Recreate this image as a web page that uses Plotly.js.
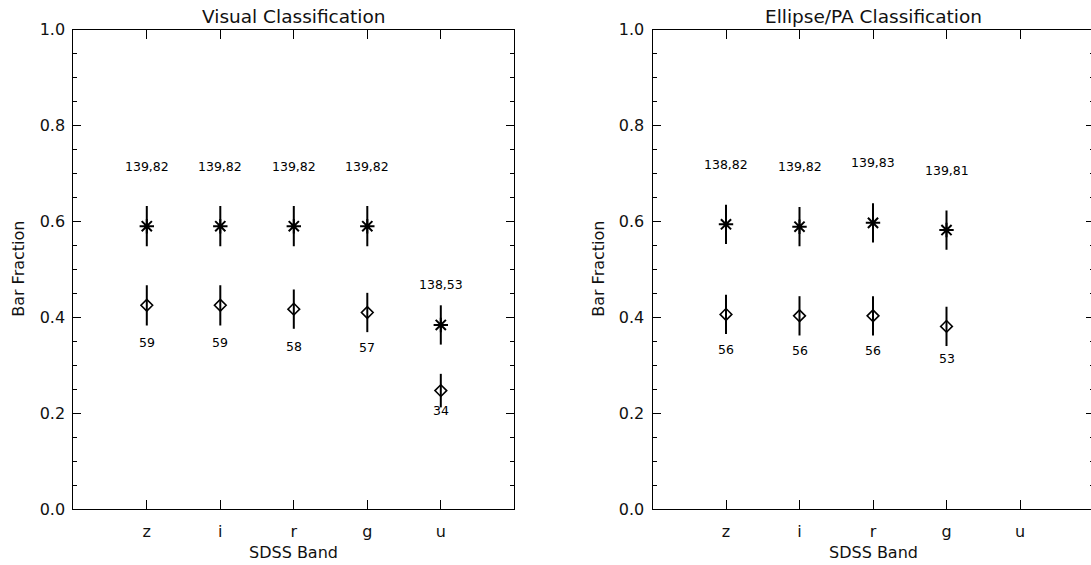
<!DOCTYPE html>
<html>
<head>
<meta charset="utf-8">
<script src="https://cdn.plot.ly/plotly-3.0.1.min.js"></script>
<style>
html,body{margin:0;padding:0;overflow:hidden;background:#fff;}
#chart{width:1096px;height:565px;}
</style>
</head>
<body>
<div id="chart"></div>
<script>
// ---------------- data ----------------
const bands = ['z', 'i', 'r', 'g', 'u'];

// Visual classification
const visBands = ['z', 'i', 'r', 'g', 'u'];
const visTotal = [139, 139, 139, 139, 138];
const visBarCount = [82, 82, 82, 82, 53];
const visBarFrac = [0.590, 0.590, 0.590, 0.590, 0.384];
const visBarErr = [0.042, 0.042, 0.042, 0.042, 0.041];
const visStrongCount = [59, 59, 58, 57, 34];
const visStrongFrac = [0.425, 0.425, 0.417, 0.410, 0.247];
const visStrongErr = [0.042, 0.042, 0.041, 0.041, 0.035];

// Ellipse/PA classification
const ellBands = ['z', 'i', 'r', 'g'];
const ellTotal = [138, 139, 139, 139];
const ellBarCount = [82, 82, 83, 81];
const ellBarFrac = [0.594, 0.589, 0.597, 0.582];
const ellBarErr = [0.041, 0.041, 0.041, 0.041];
const ellStrongCount = [56, 56, 56, 53];
const ellStrongFrac = [0.406, 0.403, 0.403, 0.381];
const ellStrongErr = [0.041, 0.041, 0.041, 0.041];

// ---------------- layout constants ----------------
const FONT = 'DejaVu Sans, sans-serif';
const W = 1096, H = 565;
// label offsets (data units) above the asterisk / below the diamond
const visUp = [0.125, 0.125, 0.125, 0.125, 0.085];
const visDown = [0.077, 0.077, 0.077, 0.074, 0.041];
const ellUp = [0.125, 0.125, 0.125, 0.125];
const ellDown = [0.074, 0.072, 0.072, 0.068];

function starTrace(x, y, e, xa, ya) {
  return {
    type: 'scatter', mode: 'markers', x: x, y: y, xaxis: xa, yaxis: ya,
    marker: {symbol: 'asterisk-open', size: 12, color: '#000', line: {color: '#000', width: 2}},
    error_y: {type: 'data', array: e, visible: true, color: '#000', thickness: 2, width: 0},
    showlegend: false, hoverinfo: 'x+y'
  };
}
function diamondTrace(x, y, e, xa, ya) {
  return {
    type: 'scatter', mode: 'markers', x: x, y: y, xaxis: xa, yaxis: ya,
    marker: {symbol: 'diamond-open', size: 9, color: '#000', line: {color: '#000', width: 1.6}},
    error_y: {type: 'data', array: e, visible: true, color: '#000', thickness: 2, width: 0},
    showlegend: false, hoverinfo: 'x+y'
  };
}

const data = [
  diamondTrace(visBands, visStrongFrac, visStrongErr, 'x', 'y'),
  starTrace(visBands, visBarFrac, visBarErr, 'x', 'y'),
  diamondTrace(ellBands, ellStrongFrac, ellStrongErr, 'x2', 'y2'),
  starTrace(ellBands, ellBarFrac, ellBarErr, 'x2', 'y2')
];

const annotations = [];
function addLabels(xs, frac, strongFrac, total, barCount, strongCount, up, down, xr, yr) {
  xs.forEach((b, i) => {
    annotations.push({x: b, y: frac[i] + up[i], xref: xr, yref: yr, text: total[i] + ',' + barCount[i],
      showarrow: false, font: {family: FONT, size: 12.5, color: '#000'}, xanchor: 'center', yanchor: 'middle'});
    annotations.push({x: b, y: strongFrac[i] - down[i], xref: xr, yref: yr, text: String(strongCount[i]),
      showarrow: false, font: {family: FONT, size: 12.5, color: '#000'}, xanchor: 'center', yanchor: 'middle'});
  });
}
addLabels(visBands, visBarFrac, visStrongFrac, visTotal, visBarCount, visStrongCount, visUp, visDown, 'x', 'y');
addLabels(ellBands, ellBarFrac, ellStrongFrac, ellTotal, ellBarCount, ellStrongCount, ellUp, ellDown, 'x2', 'y2');

const dom1 = [73.3 / W, 514.3 / W];
const dom2 = [652.5 / W, 1093.5 / W];
const ydom = [56 / H, 535.3 / H];

function txt(text, x, y, size, angle) {
  return {text: text, x: x, y: y, xref: 'paper', yref: 'paper', showarrow: false,
    xanchor: 'center', yanchor: 'middle', textangle: angle || 0,
    font: {family: FONT, size: size, color: '#111'}};
}
annotations.push(txt('Visual Classification', (dom1[0] + dom1[1]) / 2, 1 - 16 / H, 18.5));
annotations.push(txt('Ellipse/PA Classification', (dom2[0] + dom2[1]) / 2, 1 - 16 / H, 18.5));
annotations.push(txt('SDSS Band', (dom1[0] + dom1[1]) / 2, 1 - 552 / H, 16));
annotations.push(txt('SDSS Band', (dom2[0] + dom2[1]) / 2, 1 - 552 / H, 16));
annotations.push(txt('Bar Fraction', 18.5 / W, (ydom[0] + ydom[1]) / 2, 16, -90));
annotations.push(txt('Bar Fraction', 598.5 / W, (ydom[0] + ydom[1]) / 2, 16, -90));

function xAxis(dom, anchor) {
  return {
    domain: dom, anchor: anchor, type: 'category', categoryarray: bands, categoryorder: 'array',
    range: [-1, 5], showline: true, linecolor: '#000', linewidth: 1, mirror: 'ticks',
    ticks: 'inside', ticklen: 9, tickwidth: 1, tickcolor: '#000', showgrid: false, zeroline: false,
    tickfont: {family: FONT, size: 16, color: '#111'}, ticklabelstandoff: 8, fixedrange: true
  };
}
function yAxis(anchor) {
  return {
    domain: ydom, anchor: anchor, range: [0, 1], tick0: 0, dtick: 0.2, tickformat: '.1f',
    showline: true, linecolor: '#000', linewidth: 1, mirror: 'ticks',
    ticks: 'inside', ticklen: 8, tickwidth: 1, tickcolor: '#000', showgrid: false, zeroline: false,
    minor: {dtick: 0.05, ticks: 'inside', ticklen: 4, tickcolor: '#000', tickwidth: 1, showgrid: false},
    tickfont: {family: FONT, size: 16, color: '#111'}, ticklabelstandoff: 4, fixedrange: true
  };
}

const layout = {
  width: W, height: H,
  margin: {l: 0, r: 0, t: 0, b: 0},
  paper_bgcolor: '#fff', plot_bgcolor: '#fff',
  showlegend: false,
  xaxis: xAxis(dom1, 'y'),
  yaxis: yAxis('x'),
  xaxis2: xAxis(dom2, 'y2'),
  yaxis2: yAxis('x2'),
  annotations: annotations
};

Plotly.newPlot('chart', data, layout, {displayModeBar: false, staticPlot: true});
</script>
</body>
</html>
